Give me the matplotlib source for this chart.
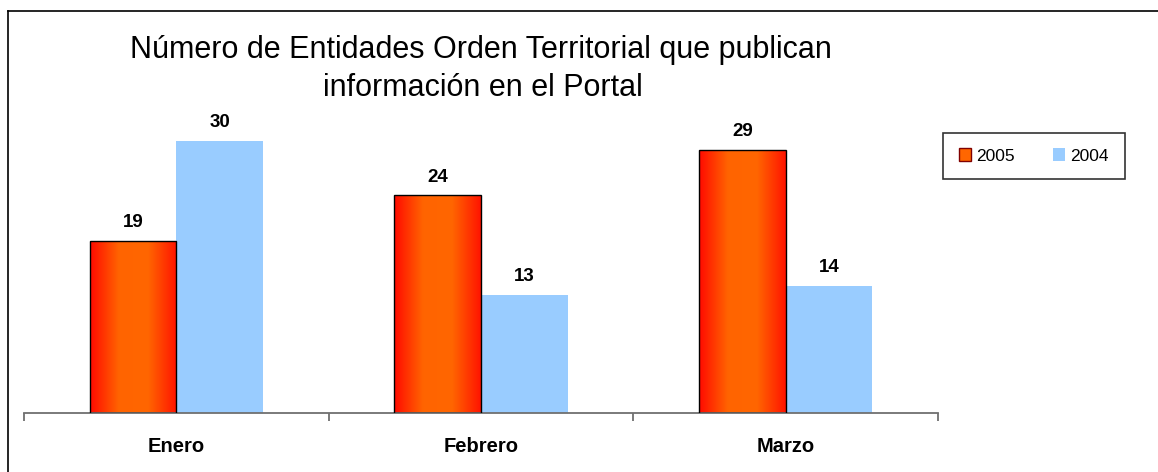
import matplotlib
matplotlib.use("Agg")
import matplotlib.pyplot as plt
import numpy as np
from matplotlib.colors import LinearSegmentedColormap
from matplotlib.lines import Line2D
from matplotlib.patches import Patch

plt.rcParams['font.family'] = ['Liberation Sans', 'DejaVu Sans']

categories = ['Enero', 'Febrero', 'Marzo']
series_names = ['2005', '2004']
vals_2005 = [19, 24, 29]
vals_2004 = [30, 13, 14]

W, H = 1158, 472
fig = plt.figure(figsize=(W / 100, H / 100), dpi=100)
ax = fig.add_axes([24 / W, (H - 413) / H, (938 - 24) / W, 313 / H])

x = np.arange(len(categories))
bw = 0.285
b05 = ax.bar(x - bw / 2, vals_2005, bw, color='#ff6600', edgecolor='black', linewidth=1.0, zorder=2)
b04 = ax.bar(x + bw / 2, vals_2004, bw, color='#99ccff', linewidth=0, zorder=2)

# horizontal gradient red-orange-red on the 2005 bars
grad = LinearSegmentedColormap.from_list('g', ['#ff0a00', '#ff6400', '#ff6600', '#ff1400'])
g = np.linspace(0, 1, 256).reshape(1, -1)
for p in b05:
    x0, y0 = p.get_x(), p.get_y()
    im = ax.imshow(g, cmap=grad, aspect='auto', extent=[x0, x0 + p.get_width(), y0, y0 + p.get_height()],
                   zorder=2.5, interpolation='bilinear')
    im.set_clip_path(p)
    p.set_facecolor('none')
    p.set_zorder(3)

for bars, vals in ((b05, vals_2005), (b04, vals_2004)):
    for p, v in zip(bars, vals):
        ax.text(p.get_x() + p.get_width() / 2, v + 1.5, str(v), ha='center', va='baseline',
                fontsize=13.5, fontweight='bold')

ax.set_xlim(-0.5, len(categories) - 0.5)
ax.set_ylim(0, 34.5)
ax.set_yticks([])
for s in ('top', 'right', 'left'):
    ax.spines[s].set_visible(False)
ax.spines['bottom'].set_color('#707070')
ax.spines['bottom'].set_linewidth(1.3)
ax.set_xticks([-0.5, 0.5, 1.5, 2.5])
ax.set_xticklabels([])
ax.tick_params(axis='x', length=6, color='#707070', width=1.3)
for xi, c in zip(x, categories):
    ax.text(xi, -4.3, c, ha='center', va='baseline', fontsize=14.5, fontweight='bold')

fig.text(481 / W, 1 - 58 / H, 'Número de Entidades Orden Territorial que publican', ha='center',
         va='baseline', fontsize=22)
fig.text(483 / W, 1 - 96 / H, 'información en el Portal', ha='center', va='baseline', fontsize=22)

handles = [Patch(facecolor='#ff6600', edgecolor='#800000', linewidth=1.0),
           Patch(facecolor='#99ccff', edgecolor='none')]
leg = fig.legend(handles, series_names, loc='center', bbox_to_anchor=(1034 / W, 1 - 156 / H), ncol=2,
                 frameon=True, fancybox=False, edgecolor='black', fontsize=12.5, handlelength=0.7,
                 handleheight=0.7, handletextpad=0.3, columnspacing=2.2, borderpad=0.9)
leg.get_frame().set_linewidth(1.2)

fig.add_artist(Line2D([8 / W, 8 / W], [0, 1 - 11 / H], color='black', lw=1.2))
fig.add_artist(Line2D([8 / W, 1], [1 - 11 / H, 1 - 11 / H], color='black', lw=1.2))

fig.savefig('out.png', dpi=100)
